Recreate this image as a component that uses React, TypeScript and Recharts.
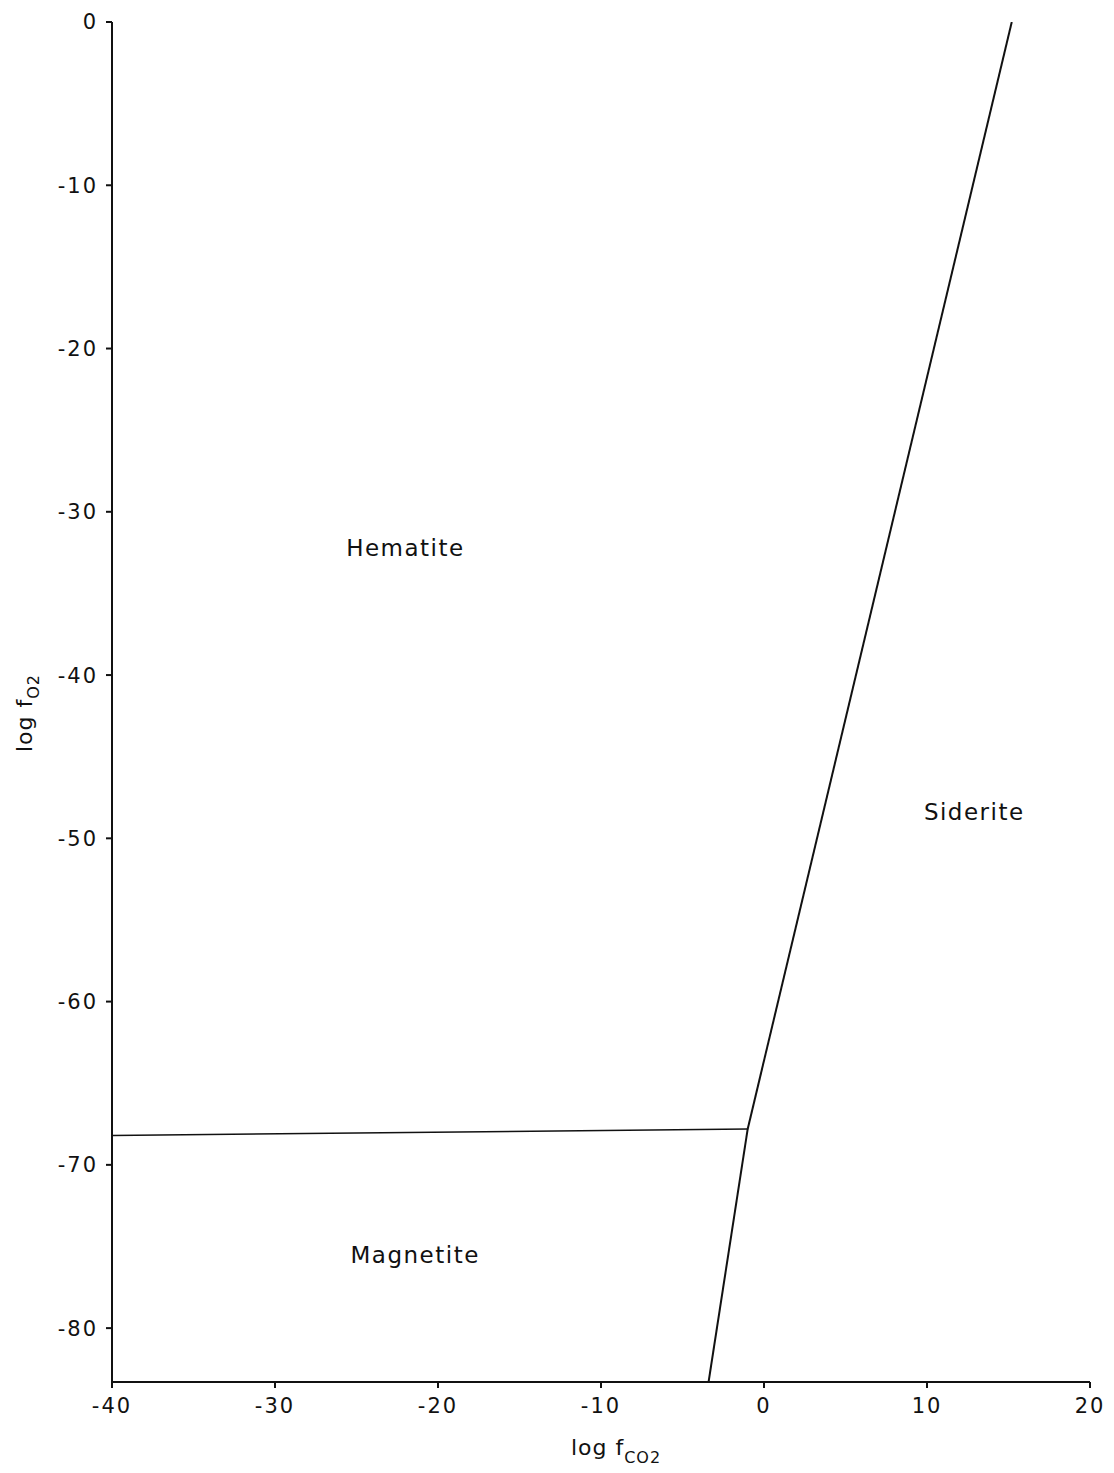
import React from "react";
import { LineChart, Line, XAxis, YAxis, ReferenceDot } from "recharts";

const xTicks = [-40, -30, -20, -10, 0, 10, 20];
const yTicks = [0, -10, -20, -30, -40, -50, -60, -70, -80];

const sideriteUpper = [
  { x: 15.2, y: 0 },
  { x: -1.0, y: -67.8 },
];
const sideriteLower = [
  { x: -1.0, y: -67.8 },
  { x: -3.4, y: -83.3 },
];
const magnetiteHematite = [
  { x: -40, y: -68.2 },
  { x: -1.0, y: -67.8 },
];

const fieldNames = ["Hematite", "Siderite", "Magnetite"];
const fieldX = [-22.0, 12.9, -21.4];
const fieldY = [-32.2, -48.4, -75.5];

const FONT = "'DejaVu Sans', sans-serif";

const YLabel = (props: any) => {
  const cx = 32 - 8;
  const cy = 713 - 8;
  return (
    <text
      x={cx}
      y={cy}
      transform={`rotate(-90, ${cx}, ${cy})`}
      textAnchor="middle"
      fontFamily={FONT}
      fontSize={22}
      letterSpacing={1}
      fill="#111"
    >
      log f
      <tspan fontSize={16} dy={7}>O2</tspan>
    </text>
  );
};

const XLabel = (props: any) => {
  return (
    <text
      x={616 - 8}
      y={1455 - 8}
      textAnchor="middle"
      fontFamily={FONT}
      fontSize={22}
      letterSpacing={1}
      fill="#111"
    >
      log f
      <tspan fontSize={16} dy={8}>CO2</tspan>
    </text>
  );
};

export default function App() {
  return (
    <LineChart
      width={1100}
      height={1460}
      margin={{ top: 14, right: 18, left: 44, bottom: 46 }}
      style={{ background: "#fff" }}
    >
      <XAxis
        type="number"
        dataKey="x"
        domain={[-40, 20]}
        ticks={xTicks}
        allowDataOverflow
        stroke="#111"
        strokeWidth={2}
        tickSize={6}
        tickMargin={10}
        fontSize={21}
        tick={{ fontFamily: FONT, fontSize: 21, fill: "#111", letterSpacing: 2 }}
        height={40}
        label={<XLabel />}
      />
      <YAxis
        type="number"
        dataKey="y"
        domain={[-83.3, 0]}
        ticks={yTicks}
        allowDataOverflow
        stroke="#111"
        strokeWidth={2}
        tickSize={6}
        tickMargin={8}
        fontSize={21}
        tick={{ fontFamily: FONT, fontSize: 21, fill: "#111", letterSpacing: 2 }}
        width={60}
        label={<YLabel />}
      />
      <Line
        data={sideriteUpper}
        dataKey="y"
        stroke="#111"
        strokeWidth={2}
        dot={false}
        isAnimationActive={false}
      />
      <Line
        data={sideriteLower}
        dataKey="y"
        stroke="#111"
        strokeWidth={2}
        dot={false}
        isAnimationActive={false}
      />
      <Line
        data={magnetiteHematite}
        dataKey="y"
        stroke="#111"
        strokeWidth={1.5}
        dot={false}
        isAnimationActive={false}
      />
      {fieldNames.map((name, i) => (
        <ReferenceDot
          key={name}
          x={fieldX[i]}
          y={fieldY[i]}
          r={0}
          fill="none"
          stroke="none"
          label={{
            value: name,
            position: "center",
            fontFamily: FONT,
            fontSize: 23,
            fill: "#111",
            letterSpacing: 1.5,
          }}
        />
      ))}
    </LineChart>
  );
}
